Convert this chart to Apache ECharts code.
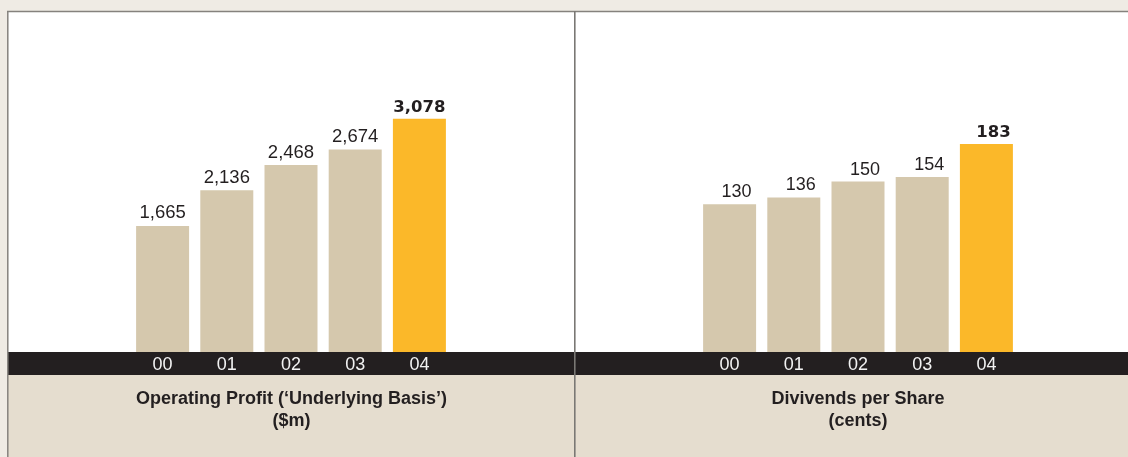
<!DOCTYPE html>
<html>
<head>
<meta charset="utf-8">
<script src="https://cdn.jsdelivr.net/npm/echarts@6/dist/echarts.min.js"></script>
<style>
  html, body { margin: 0; padding: 0; background: #efebe4; }
  #chart { width: 1128px; height: 457px; }
</style>
</head>
<body>
<div id="chart"></div>
<script>
// data
const years = ["00", "01", "02", "03", "04"];
const profitValues = [1665, 2136, 2468, 2674, 3078];
const dividendValues = [130, 136, 150, 154, 183];
const profitTitle = "Operating Profit (‘Underlying Basis’)\n($m)";
const dividendTitle = "Divivends per Share\n(cents)";

const BAR = "#d5c8ad";
const GOLD = "#fbb829";
const INK = "#231f20";
const FONT = "'Liberation Sans', Arial, sans-serif";

document.addEventListener("DOMContentLoaded", function () {
  const chart = echarts.init(document.getElementById("chart"));

  // last year gets the gold bar and the heavy label
  function barData(values) {
    const last = values.length - 1;
    return values.map((v, i) =>
      i === last
        ? {
            value: v,
            itemStyle: { color: GOLD },
            label: {
              fontFamily: "'DejaVu Sans', sans-serif",
              fontWeight: "bold",
              fontSize: 16.5,
            },
          }
        : v,
    );
  }

  function xAxisFor(idx) {
    return {
      type: "category",
      gridIndex: idx,
      data: years,
      z: 10,
      axisLine: { show: false },
      axisTick: { show: false },
      axisLabel: {
        color: "#f2f2f2",
        fontSize: 18,
        fontFamily: FONT,
        margin: 4,
      },
    };
  }

  function titleText(x, text) {
    return {
      type: "text",
      x: x,
      y: 388,
      z: 5,
      style: {
        text: text,
        align: "center",
        verticalAlign: "top",
        fill: INK,
        fontSize: 18,
        fontWeight: "bold",
        fontFamily: FONT,
        lineHeight: 22,
      },
    };
  }

  const option = {
    animation: false,
    backgroundColor: "#efebe4",
    grid: [
      { left: 130.5, width: 321, top: 49, height: 303 },
      { left: 697.5, width: 321, top: 68, height: 284 },
    ],
    xAxis: [xAxisFor(0), xAxisFor(1)],
    yAxis: [
      { type: "value", gridIndex: 0, min: 0, max: 4000, show: false },
      { type: "value", gridIndex: 1, min: 0, max: 250, show: false },
    ],
    graphic: [
      // panels and frame
      { type: "rect", z: -10, shape: { x: 8, y: 12, width: 1120, height: 340 }, style: { fill: "#ffffff" } },
      { type: "rect", z: -10, shape: { x: 8, y: 352, width: 1120, height: 23 }, style: { fill: INK } },
      { type: "rect", z: -10, shape: { x: 8, y: 375, width: 1120, height: 82 }, style: { fill: "#e5ddcf" } },
      { type: "line", z: 1, shape: { x1: 7, y1: 11.5, x2: 1128, y2: 11.5 }, style: { stroke: "#85827d", lineWidth: 1.5 } },
      { type: "line", z: 1, shape: { x1: 7.8, y1: 11, x2: 7.8, y2: 457 }, style: { stroke: "#85827d", lineWidth: 1.5 } },
      { type: "line", z: 1, shape: { x1: 574.8, y1: 11, x2: 574.8, y2: 457 }, style: { stroke: "#7a7874", lineWidth: 1.6 } },
      titleText(291.5, profitTitle),
      titleText(858, dividendTitle),
    ],
    series: [
      {
        type: "bar",
        xAxisIndex: 0,
        yAxisIndex: 0,
        barWidth: 53,
        itemStyle: { color: BAR },
        label: {
          show: true,
          position: "top",
          distance: 3,
          color: INK,
          fontSize: 18.5,
          fontFamily: FONT,
          formatter: (p) => p.value.toLocaleString("en-US"),
        },
        data: barData(profitValues),
      },
      {
        type: "bar",
        xAxisIndex: 1,
        yAxisIndex: 1,
        barWidth: 53,
        itemStyle: { color: BAR },
        label: {
          show: true,
          position: "top",
          distance: 3,
          offset: [7, 0],
          color: INK,
          fontSize: 18,
          fontFamily: FONT,
        },
        data: barData(dividendValues),
      },
    ],
  };
  chart.setOption(option);
});
</script>
</body>
</html>
